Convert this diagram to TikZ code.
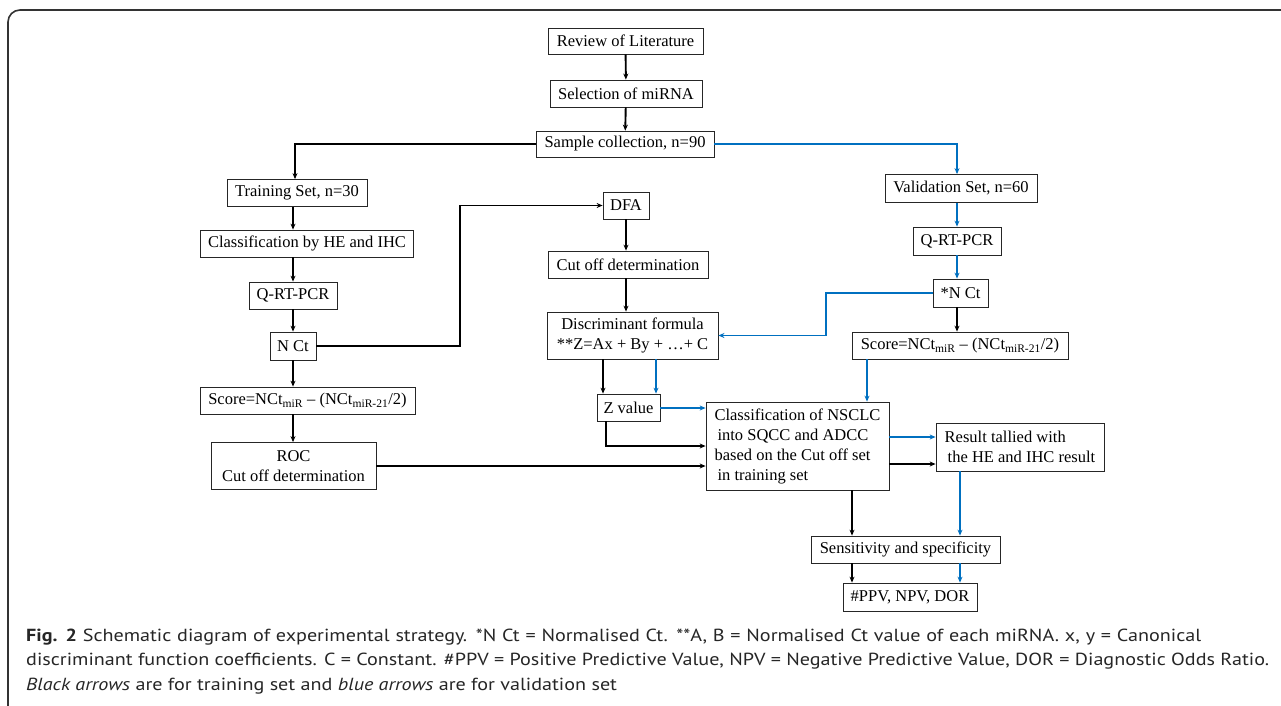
\documentclass[tikz,border=0pt]{standalone}
\usepackage{fontspec}
\setmainfont{Liberation Serif}
\newfontfamily\capfont{PT Sans}[FakeStretch=1.15]
\usetikzlibrary{arrows.meta}
\definecolor{vblue}{RGB}{0,112,192}
\begin{document}
\begin{tikzpicture}[x=1pt,y=-1pt,
  box/.style={draw=black!85, line width=0.8pt, inner sep=0pt, align=center, font=\fontsize{16.5}{20}\selectfont},
  arr/.style={-{Stealth[length=6pt,width=5pt]}, line width=1.9pt},
  barr/.style={arr, draw=vblue},
  captext/.style={anchor=base west, inner sep=0pt, text=black!85, font=\capfont\fontsize{17.5}{24}\selectfont}
]
\useasboundingbox (0,0) rectangle (1281,706);
\fill[white] (0,0) rectangle (1281,706);
\draw[line width=1.6pt, black!80, rounded corners=12pt] (8,712) -- (8,10) -- (1290,10);

% centre column
\node[box, minimum width=155, minimum height=26] (rev) at (625.5,41) {Review of Literature};
\node[box, minimum width=152, minimum height=27] (sel) at (626,93.5) {Selection of miRNA};
\node[box, minimum width=178, minimum height=26] (samp) at (625,144) {Sample collection, n=90};

% left column
\node[box, minimum width=140, minimum height=27] (train) at (297,193) {Training Set, n=30};
\node[box, minimum width=213, minimum height=27] (clshe) at (307,243.5) {Classification by HE and IHC};
\node[box, minimum width=88, minimum height=27] (qrt1) at (293,295.5) {Q-RT-PCR};
\node[box, minimum width=46, minimum height=28] (nct1) at (293,346) {N Ct};
\node[box, minimum width=215, minimum height=27] (score1) at (307.5,400.5) {Score=NCt\textsubscript{miR} -- (NCt\textsubscript{miR-21}/2)};
\node[box, minimum width=165, minimum height=47] (roc) at (293.5,466) {ROC\\Cut off determination};

% middle column
\node[box, minimum width=46, minimum height=27] (dfa) at (626,205.5) {DFA};
\node[box, minimum width=160, minimum height=27] (cut) at (628,264.5) {Cut off determination};
\node[box, minimum width=171, minimum height=47] (disc) at (632.5,335.5) {Discriminant formula\\**Z=Ax + By + …+ C};
\node[box, minimum width=63, minimum height=27] (zval) at (628.5,407.5) {Z value};
\node[box, minimum width=183, minimum height=88, align=left] (cls) at (797.5,446) {Classification of NSCLC\\\hspace{3pt}into SQCC and ADCC\\based on the Cut off set\\\hspace{3pt}in training set};

% right column
\node[box, minimum width=152, minimum height=28] (val) at (961,188.5) {Validation Set, n=60};
\node[box, minimum width=88, minimum height=28] (qrt2) at (957,241) {Q-RT-PCR};
\node[box, minimum width=55, minimum height=28] (nct2) at (960.5,293) {*N Ct};
\node[box, minimum width=216, minimum height=27] (score2) at (960,345.5) {Score=NCt\textsubscript{miR} -- (NCt\textsubscript{miR-21}/2)};
\node[box, minimum width=168, minimum height=48, align=left] (res) at (1020,447) {Result tallied with\\\hspace{3pt}the HE and IHC result};
\node[box, minimum width=189, minimum height=27] (sens) at (905.5,549.5) {Sensitivity and specificity};
\node[box, minimum width=134, minimum height=28] (ppv) at (910,597) {\#PPV, NPV, DOR};

% helper coordinates
\coordinate (lx) at (293,0);
\coordinate (kx) at (460,0);
\coordinate (dbx) at (603,0);
\coordinate (dux) at (656,0);
\coordinate (zbx) at (606,446);
\coordinate (bkx) at (826,0);
\coordinate (vx) at (957,0);
\coordinate (sbx) at (867,0);
\coordinate (cbx) at (852,0);
\coordinate (rbx) at (960,0);
\coordinate (y408) at (0,408);
\coordinate (y437) at (0,437);
\coordinate (y464) at (0,464);

% black (training) arrows
\draw[arr] (rev) -- (sel);
\draw[arr] (sel) -- (samp);
\draw[arr] (samp.west) -| (train.north -| 295,0);
\draw[arr] (train.south -| lx) -- (clshe.north -| lx);
\draw[arr] (clshe.south -| lx) -- (qrt1.north -| lx);
\draw[arr] (qrt1.south -| lx) -- (nct1.north -| lx);
\draw[arr] (nct1.south -| lx) -- (score1.north -| lx);
\draw[arr] (score1.south -| lx) -- (roc.north -| lx);
\draw[arr] (nct1.east) -- (nct1.east -| kx) |- (dfa.west);
\draw[arr] (dfa) -- (dfa |- cut.north);
\draw[arr] (cut.south -| dfa) -- (disc.north -| dfa);
\draw[arr] (disc.south -| dbx) -- (zval.north -| dbx);
\draw[arr] (zval.south -| zbx) -- (zbx) -- (cls.west |- zbx);
\draw[arr] (roc.east) -- (roc.east -| cls.west);
\draw[arr] (cls.east |- y464) -- (res.west |- y464);
\draw[arr] (cls.south -| cbx) -- (sens.north -| cbx);
\draw[arr] (sens.south -| cbx) -- (ppv.north -| cbx);
\draw[arr] (nct2.south -| vx) -- (score2.north -| vx);

% blue (validation) arrows
\draw[barr] (samp.east) -| (val.north -| vx);
\draw[barr] (val.south -| vx) -- (qrt2.north -| vx);
\draw[barr] (qrt2.south -| vx) -- (nct2.north -| vx);
\draw[barr] (nct2.west) -- (nct2.west -| bkx) |- (disc.east);
\draw[barr] (disc.south -| dux) -- (zval.north -| dux);
\draw[barr] (zval.east |- y408) -- (cls.west |- y408);
\draw[barr] (score2.south -| sbx) -- (cls.north -| sbx);
\draw[barr] (cls.east |- y437) -- (res.west |- y437);
\draw[barr] (res.south -| rbx) -- (sens.north -| rbx);
\draw[barr] (sens.south -| rbx) -- (ppv.north -| rbx);

% caption
\node[captext] (cap1) at (26,641) {\makebox[1175pt][s]{\textbf{Fig. 2} Schematic diagram of experimental strategy. *N Ct = Normalised Ct. **A, B = Normalised Ct value of each miRNA. x, y = Canonical}};
\node[captext] (cap2) at (26,665.5) {\makebox[1243pt][s]{discriminant function coefficients. C = Constant. \#PPV = Positive Predictive Value, NPV = Negative Predictive Value, DOR = Diagnostic Odds Ratio.}};
\node[captext] (cap3) at (26,690) {\textit{Black arrows} are for training set and \textit{blue arrows} are for validation set};
\end{tikzpicture}
\end{document}
